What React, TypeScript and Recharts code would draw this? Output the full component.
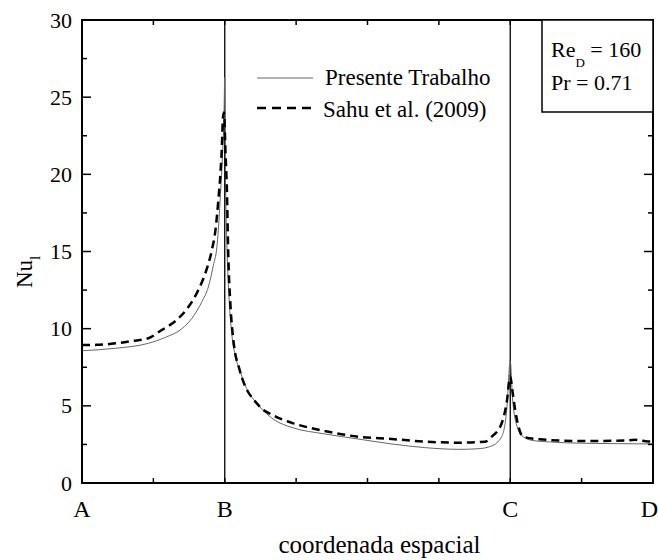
import React from 'react';
import { LineChart, Line, XAxis, YAxis, ReferenceLine, ReferenceArea, Legend } from 'recharts';

const CHART_W = 658;
const CHART_H = 560;
const MARGIN = { top: 20, right: 5, left: 0, bottom: 0 };
const Y_AXIS_W = 82;
const X_AXIS_H = 77;
const PLOT_TOP = MARGIN.top;
const PLOT_RIGHT = CHART_W - MARGIN.right;
const FONT = '"Liberation Serif", "Times New Roman", serif';

// x axis: spatial coordinate, ticks every unit, labelled points A, B, C, D
const xTicks = [0, 1, 2, 3, 4, 5, 6, 7, 8];
const xTickLabels: Record<number, string> = { 0: 'A', 2: 'B', 6: 'C', 8: 'D' };
const sectionLines = [2, 6];

// y axis: local Nusselt number
const yTicks = [0, 2.5, 5, 7.5, 10, 12.5, 15, 17.5, 20, 22.5, 25, 27.5, 30];
const yLabelled = [0, 5, 10, 15, 20, 25, 30];

// Presente Trabalho (solid)
const presenteX = [0, 0.47, 0.93, 1.17, 1.4, 1.54, 1.68, 1.77, 1.84, 1.89, 1.91, 1.94, 1.97, 1.99, 2.0, 2.01, 2.03, 2.06, 2.1, 2.15, 2.21, 2.3, 2.47, 2.7, 2.94, 3.4, 3.87, 4.34, 4.81, 5.28, 5.55, 5.74, 5.88, 5.95, 6.0, 6.03, 6.07, 6.18, 6.32, 6.6, 6.79, 7.5, 8.0];
const presenteY = [8.57, 8.73, 9.05, 9.44, 10.0, 10.67, 11.75, 12.7, 14.1, 15.3, 16.4, 18.7, 21.4, 24.0, 26.3, 20.0, 15.5, 12.0, 9.6, 8.2, 7.3, 6.2, 5.05, 4.08, 3.6, 3.18, 2.85, 2.53, 2.29, 2.18, 2.22, 2.4, 3.0, 4.7, 7.9, 5.6, 4.1, 3.0, 2.75, 2.65, 2.6, 2.55, 2.53];

// Sahu et al. (2009) (dashed)
const sahuX = [0, 0.2, 0.47, 0.7, 0.93, 1.12, 1.31, 1.49, 1.63, 1.75, 1.82, 1.87, 1.91, 1.94, 1.96, 1.975, 1.99, 2.01, 2.03, 2.05, 2.08, 2.12, 2.21, 2.47, 2.7, 2.94, 3.4, 3.87, 4.34, 4.81, 5.28, 5.65, 5.74, 5.88, 5.95, 6.0, 6.03, 6.07, 6.18, 6.41, 7.0, 7.6, 7.75, 7.9, 8.0];
const sahuY = [8.94, 8.95, 9.05, 9.2, 9.38, 9.92, 10.5, 11.4, 12.5, 13.9, 15.1, 16.4, 18.3, 20.1, 21.8, 23.7, 24.0, 21.5, 19.0, 14.7, 11.5, 9.3, 7.3, 5.05, 4.34, 3.9, 3.37, 3.0, 2.85, 2.68, 2.61, 2.68, 3.0, 3.87, 5.2, 6.9, 6.0, 4.7, 3.0, 2.83, 2.72, 2.75, 2.8, 2.7, 2.68];

const presente = presenteX.map((x, i) => ({ x, y: presenteY[i] }));
const sahu = sahuX.map((x, i) => ({ x, y: sahuY[i] }));

const XTick = (props: any) => {
  const { x, y, payload } = props;
  const label = xTickLabels[payload.value];
  const isLast = payload.value === xTicks[xTicks.length - 1];
  return (
    <g>
      <line x1={x} x2={x} y1={y} y2={y - 5} stroke="#000" strokeWidth={1.5} />
      <line x1={x} x2={x} y1={PLOT_TOP} y2={PLOT_TOP + 5} stroke="#000" strokeWidth={1.5} />
      {label ? (
        <text
          x={isLast ? x + 5 : x}
          y={y + 34}
          textAnchor={isLast ? 'end' : 'middle'}
          fontSize={24}
          fontFamily={FONT}
          fill="#000"
        >
          {label}
        </text>
      ) : null}
    </g>
  );
};

const YTick = (props: any) => {
  const { x, y, payload } = props;
  const major = yLabelled.includes(payload.value);
  const len = major ? 9 : 5;
  return (
    <g>
      <line x1={x} x2={x + len} y1={y} y2={y} stroke="#000" strokeWidth={1.5} />
      <line x1={PLOT_RIGHT} x2={PLOT_RIGHT - len} y1={y} y2={y} stroke="#000" strokeWidth={1.5} />
      {major ? (
        <text x={x - 10} y={y + 7.5} textAnchor="end" fontSize={22} fontFamily={FONT} fill="#000">
          {payload.value}
        </text>
      ) : null}
    </g>
  );
};

const renderLegend = () => (
  <svg width={260} height={70} style={{ display: 'block' }}>
    <line x1={7} x2={63} y1={18} y2={18} stroke="#666" strokeWidth={1} />
    <text x={75} y={25} fontSize={23} fontFamily={FONT} fill="#000">Presente Trabalho</text>
    <line x1={7} x2={62} y1={48} y2={48} stroke="#000" strokeWidth={2.5} strokeDasharray="9 6" />
    <text x={73} y={57} fontSize={23} fontFamily={FONT} fill="#000">Sahu et al. (2009)</text>
  </svg>
);

const YLabel = () => (
  <text transform="rotate(-90, 32, 288)" x={32} y={288} fontSize={23} fontFamily={FONT} fill="#000" textAnchor="start">
    Nu
    <tspan dy={8} fontSize={15}>l</tspan>
  </text>
);

export default function App() {
  return (
    <div style={{ position: 'relative', width: CHART_W, height: CHART_H, background: '#fff' }}>
      <style>{'body{margin:0;background:#fff;}'}</style>
      <LineChart width={CHART_W} height={CHART_H} margin={MARGIN} style={{ fontFamily: FONT }}>
        <XAxis
          dataKey="x"
          type="number"
          domain={[0, 8]}
          ticks={xTicks}
          interval={0}
          allowDataOverflow
          height={X_AXIS_H}
          tickSize={0}
          tickMargin={0}
          tickLine={false}
          tick={<XTick />}
          axisLine={{ stroke: '#000', strokeWidth: 2 }}
          label={{ value: 'coordenada espacial', position: 'insideBottom', offset: 7, fontSize: 25, fontFamily: FONT, fill: '#000', dx: 12 }}
        />
        <YAxis
          type="number"
          domain={[0, 30]}
          ticks={yTicks}
          interval={0}
          allowDataOverflow
          width={Y_AXIS_W}
          tickSize={0}
          tickMargin={0}
          tickLine={false}
          tick={<YTick />}
          axisLine={{ stroke: '#000', strokeWidth: 2 }}
          label={{ content: () => <YLabel /> }}
        />
        <ReferenceArea x1={0} x2={8} y1={0} y2={30} fill="none" stroke="#000" strokeWidth={2} ifOverflow="visible" />
        {sectionLines.map((v) => (
          <ReferenceLine key={v} x={v} stroke="#000" strokeWidth={1.3} ifOverflow="visible" />
        ))}
        <Line
          data={presente}
          dataKey="y"
          type="monotoneX"
          stroke="#666"
          strokeWidth={1}
          dot={false}
          activeDot={false}
          isAnimationActive={false}
          name="Presente Trabalho"
        />
        <Line
          data={sahu}
          dataKey="y"
          type="monotoneX"
          stroke="#000"
          strokeWidth={2.5}
          strokeDasharray="8 5"
          dot={false}
          activeDot={false}
          isAnimationActive={false}
          name="Sahu et al. (2009)"
        />
        <Legend
          layout="vertical"
          align="center"
          verticalAlign="middle"
          content={renderLegend}
          wrapperStyle={{ left: 250, top: 60, width: 260, height: 70 }}
        />
      </LineChart>
      <svg
        width={CHART_W}
        height={CHART_H}
        style={{ position: 'absolute', left: 0, top: 0, pointerEvents: 'none' }}
      >
        <rect x={542} y={20} width={111} height={92} fill="#fff" stroke="#000" strokeWidth={1.5} />
        <text x={551} y={57} fontSize={22} fontFamily={FONT} fill="#000">
          Re
          <tspan dy={10} fontSize={13}>D</tspan>
          <tspan dy={-10} fontSize={22}> = 160</tspan>
        </text>
        <text x={551} y={90} fontSize={22} fontFamily={FONT} fill="#000">Pr = 0.71</text>
      </svg>
    </div>
  );
}
